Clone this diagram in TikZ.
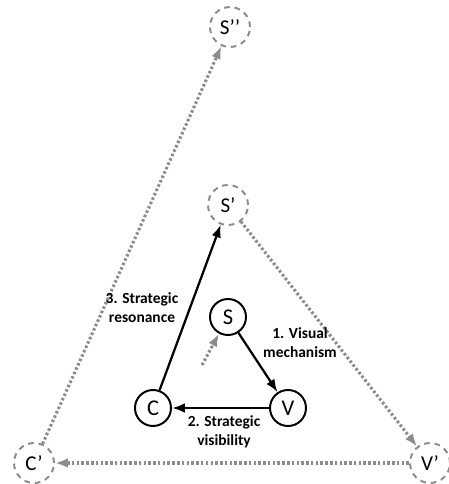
\documentclass[tikz,border=0pt]{standalone}
\usepackage{fontspec}
\setmainfont{Carlito}
\usepackage{xcolor}
\usetikzlibrary{positioning,arrows.meta}
\tikzset{
  cnode/.style ={circle, draw=black, line width=1.4pt, minimum size=9mm,
                 inner sep=0pt, font=\fontsize{16}{18}\selectfont},
  gnode/.style ={circle, draw=gray!90, line width=1.4pt, minimum size=10mm,
                 inner sep=0pt, dash pattern=on 4pt off 3.5pt,
                 font=\fontsize{15}{17}\selectfont},
  arr/.style   ={-{Latex[length=3.2mm, width=2.4mm]}, line width=1.6pt, draw=black},
  garr/.style  ={-{Latex[length=3.2mm, width=2.4mm]}, line width=2.2pt, draw=gray!90,
                 dash pattern=on 1.8pt off 1.6pt},
  lbl/.style   ={align=center, font=\fontsize{11}{13.5}\selectfont\bfseries,
                 inner sep=0pt},
}
\begin{document}
\begin{tikzpicture}
  \useasboundingbox (0,0) rectangle (11.2,12.1);

  % inner triangle
  \node[cnode] (S) at (5.7,4.175) {S};
  \node[cnode] (V) at (7.2,1.9)   {V};
  \node[cnode] (C) at (3.825,1.9) {C};

  % projected nodes
  \node[gnode] (S1) at (5.7,6.975)   {S’};
  \node[gnode] (S2) at (5.75,11.425) {S’’};
  \node[gnode] (V1) at (10.75,0.525) {V’};
  \node[gnode] (C1) at (0.85,0.525)  {C’};

  \coordinate (in) at (5.05,2.975);

  \draw[arr] (S) -- (V);
  \draw[arr] (V) -- (C);
  \draw[arr] (C) -- (S1);

  \draw[garr] (in) -- (S);
  \draw[garr] (S1) -- (V1);
  \draw[garr] (V1) -- (C1);
  \draw[garr] (C1) -- (S2);

  \node[lbl] (l1) at (7.5,3.525)  {1. Visual\\mechanism};
  \node[lbl] (l2) at (5.6,1.3)    {2. Strategic\\visibility};
  \node[lbl] (l3) at (3.55,4.4)   {3. Strategic\\resonance};
\end{tikzpicture}
\end{document}
